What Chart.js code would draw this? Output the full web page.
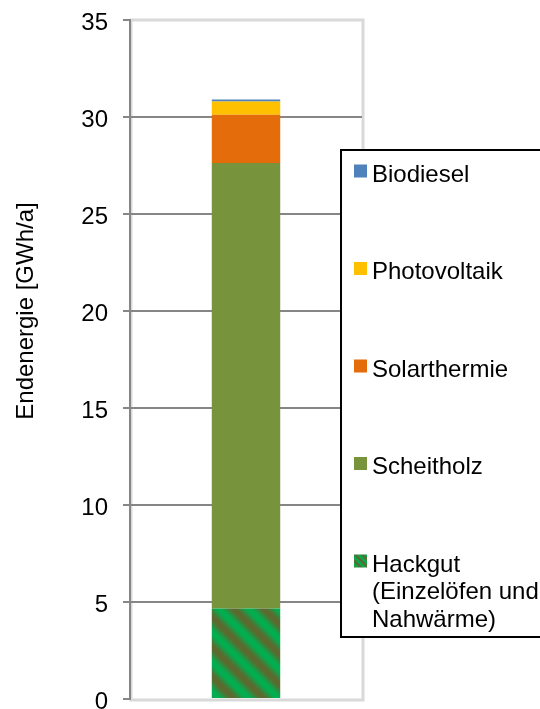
<!DOCTYPE html>
<html lang="de">
<head>
    <meta charset="UTF-8">
    <title>Endenergie</title>
    <script src="https://cdn.jsdelivr.net/npm/chart.js"></script>
    <style>
        body {
            margin: 0;
            background-color: #ffffff;
        }
        canvas {
            display: block;
        }
    </style>
</head>
<body>
    <canvas id="energyChart" width="540" height="709"></canvas>

    <script>
        // chart data
        const categories = [''];
        const hackgut = [4.67];
        const scheitholz = [22.96];
        const solarthermie = [2.48];
        const photovoltaik = [0.69];
        const biodiesel = [0.1];
        const seriesLabels = [
            ['Hackgut', '(Einzelöfen und', 'Nahwärme)'],
            ['Scheitholz'],
            ['Solarthermie'],
            ['Photovoltaik'],
            ['Biodiesel']
        ];
        const yTicks = [0, 5, 10, 15, 20, 25, 30, 35];
        const yTitle = 'Endenergie [GWh/a]';

        const FONT = '"Liberation Sans", Arial, sans-serif';

        // diagonal striped fill for Hackgut
        function makeStripes(period) {
            const tile = document.createElement('canvas');
            tile.width = period;
            tile.height = period;
            const tctx = tile.getContext('2d');
            const img = tctx.createImageData(period, period);
            const a = [0, 176, 80];     // bright green
            const b = [94, 104, 46];    // olive brown
            for (let y = 0; y < period; y++) {
                for (let x = 0; x < period; x++) {
                    const ph = (((x - y) % period) + period) % period / period;
                    const t = (1 + Math.cos(ph * 2 * Math.PI)) / 2;
                    const i = (y * period + x) * 4;
                    img.data[i] = a[0] * t + b[0] * (1 - t);
                    img.data[i + 1] = a[1] * t + b[1] * (1 - t);
                    img.data[i + 2] = a[2] * t + b[2] * (1 - t);
                    img.data[i + 3] = 255;
                }
            }
            tctx.putImageData(img, 0, 0);
            return document.createElement('canvas').getContext('2d').createPattern(tile, 'repeat');
        }

        const hackgutFill = makeStripes(30);
        const hackgutMarker = makeStripes(7);

        // light grey frame round the plot area
        const plotFrame = {
            id: 'plotFrame',
            beforeDraw(chart) {
                const { ctx, chartArea } = chart;
                ctx.save();
                ctx.strokeStyle = '#d9d9d9';
                ctx.lineWidth = 3;
                ctx.strokeRect(chartArea.left + 1, chartArea.top, chartArea.right - chartArea.left, chartArea.bottom - chartArea.top + 1);
                ctx.restore();
            }
        };

        // axis title and boxed legend
        const extras = {
            id: 'extras',
            afterDraw(chart) {
                const ctx = chart.ctx;
                ctx.save();
                ctx.fillStyle = '#000';
                ctx.font = '24px ' + FONT;
                ctx.textAlign = 'center';
                ctx.textBaseline = 'middle';
                ctx.translate(26, 311);
                ctx.rotate(-Math.PI / 2);
                ctx.fillText(yTitle, 0, 0);
                ctx.restore();

                ctx.save();
                ctx.fillStyle = '#ffffff';
                ctx.fillRect(340, 150, 210, 487);
                ctx.strokeStyle = '#000';
                ctx.lineWidth = 2;
                ctx.strokeRect(341, 150, 210, 487);

                const sets = chart.data.datasets.slice().reverse();
                ctx.font = '24px ' + FONT;
                ctx.textAlign = 'left';
                ctx.textBaseline = 'alphabetic';
                sets.forEach((ds, i) => {
                    const base = 181.5 + i * 97.5;
                    ctx.fillStyle = ds.label === 'Hackgut' ? hackgutMarker : ds.backgroundColor;
                    ctx.fillRect(354, base - 17, 13, 13);
                    ctx.fillStyle = '#000';
                    ds.legendLines.forEach((line, j) => {
                        ctx.fillText(line, 372, base + j * 27.5);
                    });
                });
                ctx.restore();
            }
        };

        const colors = ['#4F81BD', '#FFC000', '#E46C0A', '#77933C'];

        new Chart(document.getElementById('energyChart').getContext('2d'), {
            type: 'bar',
            data: {
                labels: categories,
                datasets: [
                    { label: 'Hackgut', legendLines: seriesLabels[0], data: hackgut, backgroundColor: hackgutFill },
                    { label: 'Scheitholz', legendLines: seriesLabels[1], data: scheitholz, backgroundColor: colors[3] },
                    { label: 'Solarthermie', legendLines: seriesLabels[2], data: solarthermie, backgroundColor: colors[2] },
                    { label: 'Photovoltaik', legendLines: seriesLabels[3], data: photovoltaik, backgroundColor: colors[1] },
                    { label: 'Biodiesel', legendLines: seriesLabels[4], data: biodiesel, backgroundColor: colors[0] }
                ]
            },
            options: {
                responsive: false,
                animation: false,
                barPercentage: 0.295,
                categoryPercentage: 1,
                layout: {
                    padding: { top: 20, right: 178, bottom: 10, left: 0 }
                },
                plugins: {
                    legend: { display: false },
                    tooltip: { enabled: false }
                },
                scales: {
                    x: {
                        stacked: true,
                        display: false
                    },
                    y: {
                        stacked: true,
                        min: yTicks[0],
                        max: yTicks[yTicks.length - 1],
                        afterBuildTicks(scale) {
                            scale.ticks = yTicks.map(v => ({ value: v }));
                        },
                        afterFit(scale) {
                            scale.width = 130;
                            scale.paddingTop = 0;
                            scale.paddingBottom = 0;
                        },
                        ticks: {
                            color: '#000',
                            font: { family: FONT, size: 24 },
                            padding: 15,
                            labelOffset: 3
                        },
                        grid: {
                            color: c => (c.tick && c.tick.value > 0 && c.tick.value < 35) ? '#868686' : 'rgba(0,0,0,0)',
                            tickColor: '#868686',
                            lineWidth: 2,
                            tickLength: 7
                        },
                        border: { color: '#868686', width: 2 }
                    }
                }
            },
            plugins: [plotFrame, extras]
        });
    </script>
</body>
</html>
